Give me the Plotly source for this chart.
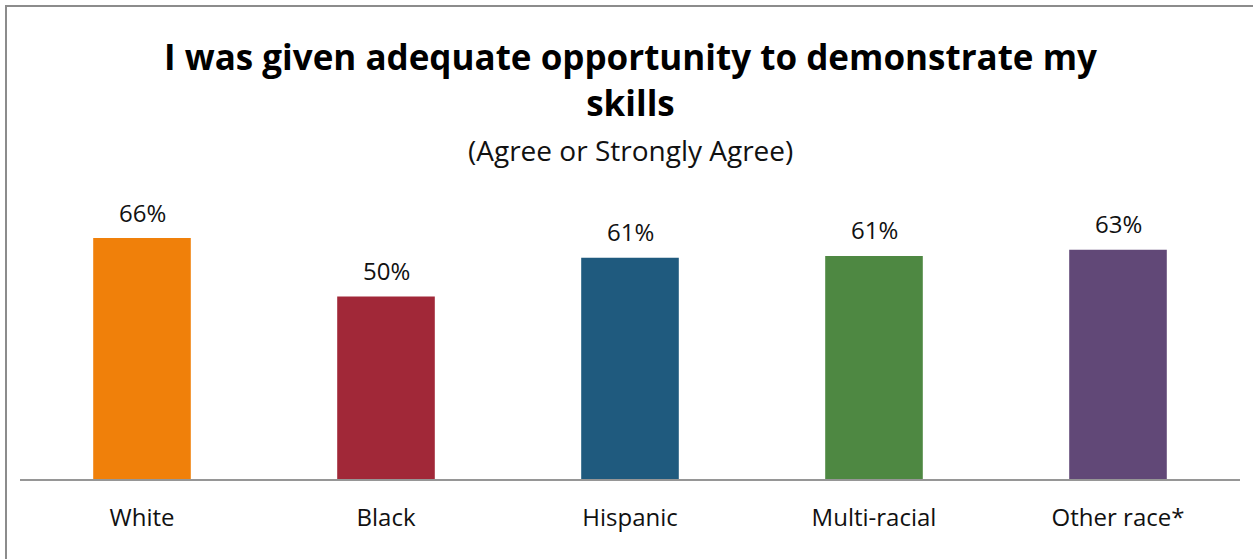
import plotly.graph_objects as go

categories = ["White", "Black", "Hispanic", "Multi-racial", "Other race*"]
values = [66, 50, 60.6, 61.1, 62.8]
labels = ["66%", "50%", "61%", "61%", "63%"]
colors = ["#F0800A", "#A12838", "#1F5A7E", "#4E8842", "#614877"]

title_text = "I was given adequate opportunity to demonstrate my<br>skills"
subtitle_text = "(Agree or Strongly Agree)"

FONT = "Open Sans"

fig = go.Figure(go.Bar(
    x=categories, y=values, marker=dict(color=colors, line=dict(width=0)),
    width=0.4, hoverinfo="x+y",
))

annotations = [
    dict(text="<b>" + title_text + "</b>", x=0.5, y=(479 - 79) / 292, xref="paper", yref="paper",
         xanchor="center", yanchor="middle", showarrow=False,
         font=dict(family=FONT, size=35, color="black")),
    dict(text=subtitle_text, x=0.5, y=(479 - 150) / 292, xref="paper", yref="paper",
         xanchor="center", yanchor="middle", showarrow=False,
         font=dict(family=FONT, size=28, color="#111111")),
]
for c, v, t in zip(categories, values, labels):
    annotations.append(dict(text=t, x=c, y=v, xref="x", yref="y", showarrow=False,
                            xanchor="center", yanchor="middle", yshift=26,
                            font=dict(family=FONT, size=24, color="#111111")))

fig.update_layout(
    width=1253, height=559,
    margin=dict(l=20, r=13, t=187, b=80),
    paper_bgcolor="white", plot_bgcolor="white",
    showlegend=False,
    xaxis=dict(showline=True, linecolor="#969696", linewidth=2, ticks="",
               tickfont=dict(family=FONT, size=24, color="#111111"),
               ticklabelstandoff=16, showgrid=False),
    yaxis=dict(range=[0, 80], visible=False, showgrid=False),
    annotations=annotations,
    shapes=[dict(type="rect", xref="paper", yref="paper",
                 x0=(6 - 20) / 1220, x1=1.05, y0=-0.5, y1=(479 - 6) / 292,
                 line=dict(color="#8c8c8c", width=2), fillcolor="rgba(0,0,0,0)", layer="below")],
)

fig.write_html("out.html", config={"displayModeBar": False},
               post_script="document.body.style.margin='0';document.body.style.overflow='hidden';")
